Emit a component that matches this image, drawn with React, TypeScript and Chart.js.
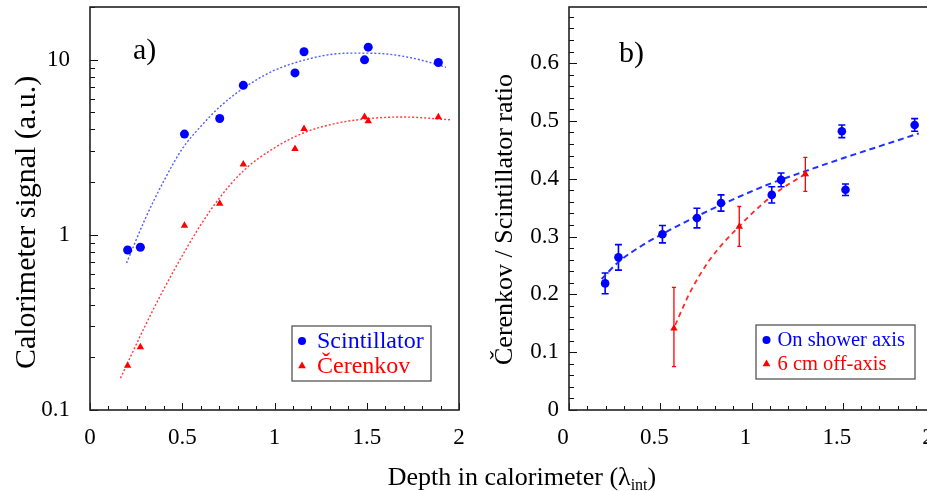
import React, { useEffect, useRef } from "react";
import { Chart, registerables } from "chart.js";

Chart.register(...registerables);

// ---------- Panel a) : calorimeter signal vs depth (log scale) ----------
const depthA = [0.204, 0.273, 0.512, 0.703, 0.831, 1.111, 1.16, 1.488, 1.508, 1.888];
const scintSignal = [0.82, 0.85, 3.76, 4.62, 7.14, 8.41, 11.1, 9.98, 11.8, 9.64];
const cerenkovSignal = [0.179, 0.229, 1.13, 1.51, 2.53, 3.1, 4.03, 4.72, 4.46, 4.71];

const scintFitDepth = [0.198, 0.3, 0.4, 0.5, 0.6, 0.7, 0.8, 0.9, 1.0, 1.1, 1.2, 1.3, 1.4, 1.5, 1.6, 1.7, 1.8, 1.93];
const scintFitSignal = [0.69, 1.24, 2.03, 3.1, 4.16, 5.34, 6.52, 7.65, 8.71, 9.53, 10.2, 10.7, 10.9, 10.9, 10.8, 10.45, 9.92, 9.05];
const cerFitDepth = [0.165, 0.3, 0.4, 0.512, 0.6, 0.703, 0.831, 1.0, 1.16, 1.328, 1.49, 1.69, 1.957];
const cerFitSignal = [0.152, 0.304, 0.49, 0.8, 1.14, 1.63, 2.32, 3.14, 3.83, 4.32, 4.59, 4.71, 4.54];

const yTickLabelsA = [0.1, 1, 10];
const xTickLabels = [0, 0.5, 1, 1.5, 2];

// ---------- Panel b) : Cerenkov / Scintillator ratio ----------
const depthB = [0.198, 0.271, 0.512, 0.701, 0.833, 1.111, 1.162, 1.495, 1.515, 1.894];
const ratioOnAxis = [0.219, 0.264, 0.304, 0.332, 0.358, 0.372, 0.398, 0.482, 0.381, 0.493];
const ratioOnAxisErr = [0.018, 0.022, 0.015, 0.017, 0.014, 0.014, 0.012, 0.011, 0.01, 0.011];

const depthOff = [0.575, 0.933, 1.295];
const ratioOffAxis = [0.141, 0.317, 0.408];
const ratioOffLow = [0.075, 0.283, 0.378];
const ratioOffHigh = [0.212, 0.352, 0.437];

const onFitDepth = [0.179, 0.271, 0.4, 0.512, 0.7, 0.9, 1.1, 1.3, 1.5, 1.7, 1.917];
const onFitRatio = [0.2267, 0.256, 0.2845, 0.3046, 0.3349, 0.3643, 0.3911, 0.4136, 0.4353, 0.456, 0.4785];
const offFitDepth = [0.582, 0.664, 0.774, 0.933, 1.048, 1.158, 1.295];
const offFitRatio = [0.147, 0.204, 0.261, 0.318, 0.353, 0.381, 0.408];

const yTickLabelsB = [0, 0.1, 0.2, 0.3, 0.4, 0.5, 0.6];

const SERIF = "'Liberation Serif', 'Times New Roman', Times, serif";
const BLUE = "#0000ff";
const RED = "#ff0000";

type Pt = { x: number; y: number };
const pts = (xs: number[], ys: number[]): Pt[] => xs.map((x, i) => ({ x, y: ys[i] }));

type TickSpec = { value: number; major: boolean };
function linearTicks(min: number, max: number, step: number, majorEvery: number): TickSpec[] {
  const out: TickSpec[] = [];
  const n = Math.floor((max - min) / step + 1e-6);
  for (let i = 0; i <= n; i++) out.push({ value: +(min + i * step).toFixed(6), major: i % majorEvery === 0 });
  return out;
}
function logTicks(min: number, max: number): TickSpec[] {
  const out: TickSpec[] = [];
  for (let d = min; d <= max * 1.0001; d *= 10) {
    for (let k = 1; k <= 9; k++) {
      const v = +(k * d).toPrecision(6);
      if (v >= min * 0.9999 && v <= max * 1.0001) out.push({ value: v, major: k === 1 });
    }
  }
  return out;
}

type ErrSpec = { xs: number[]; lows: number[]; highs: number[]; color: string; width: number; cap: number };
type LegendItem = { label: string; color: string; style: "circle" | "triangle" };
type DecorCfg = {
  xTicks: TickSpec[];
  yTicks: TickSpec[];
  label: string;
  labelDx: number;
  labelDy: number;
  yTitle: { text: string; size: number; x: number; dy: number };
  errors: ErrSpec[];
  legend: {
    rightOffset: number;
    bottomOffset: number;
    width: number;
    height: number;
    fontSize: number;
    markerDx: number;
    textDx: number;
    rows: number[];
    items: LegendItem[];
  };
};

function drawMarker(ctx: CanvasRenderingContext2D, style: string, x: number, y: number, r: number, color: string) {
  ctx.fillStyle = color;
  ctx.beginPath();
  if (style === "circle") {
    ctx.arc(x, y, r, 0, Math.PI * 2);
  } else {
    ctx.moveTo(x, y - r);
    ctx.lineTo(x + r * 0.866, y + r * 0.5);
    ctx.lineTo(x - r * 0.866, y + r * 0.5);
    ctx.closePath();
  }
  ctx.fill();
}

function makeDecor(cfg: DecorCfg) {
  return {
    id: "decor",
    beforeDatasetsDraw(chart: any) {
      const { ctx, scales } = chart;
      ctx.save();
      for (const e of cfg.errors) {
        ctx.strokeStyle = e.color;
        ctx.lineWidth = e.width;
        e.xs.forEach((xv, i) => {
          const px = scales.x.getPixelForValue(xv);
          const y1 = scales.y.getPixelForValue(e.lows[i]);
          const y2 = scales.y.getPixelForValue(e.highs[i]);
          ctx.beginPath();
          ctx.moveTo(px, y1);
          ctx.lineTo(px, y2);
          if (e.cap > 0) {
            ctx.moveTo(px - e.cap, y1);
            ctx.lineTo(px + e.cap, y1);
            ctx.moveTo(px - e.cap, y2);
            ctx.lineTo(px + e.cap, y2);
          }
          ctx.stroke();
        });
      }
      ctx.restore();
    },
    afterDatasetsDraw(chart: any) {
      const { ctx, chartArea: a, scales } = chart;
      ctx.save();
      // inner ticks
      ctx.strokeStyle = "#111";
      ctx.lineWidth = 1;
      for (const t of cfg.xTicks) {
        const px = Math.round(scales.x.getPixelForValue(t.value)) + 0.5;
        const len = t.major ? 7 : 4;
        ctx.beginPath();
        ctx.moveTo(px, a.bottom);
        ctx.lineTo(px, a.bottom - len);
        ctx.stroke();
      }
      for (const t of cfg.yTicks) {
        const py = Math.round(scales.y.getPixelForValue(t.value)) + 0.5;
        const len = t.major ? 8 : 5;
        ctx.beginPath();
        ctx.moveTo(a.left, py);
        ctx.lineTo(a.left + len, py);
        ctx.stroke();
      }
      // frame
      ctx.lineWidth = 1.6;
      ctx.strokeStyle = "#222";
      ctx.strokeRect(a.left, a.top, a.right - a.left, a.bottom - a.top);
      // panel label
      ctx.fillStyle = "#000";
      ctx.font = `30px ${SERIF}`;
      ctx.textBaseline = "alphabetic";
      ctx.textAlign = "left";
      ctx.fillText(cfg.label, a.left + cfg.labelDx, a.top + cfg.labelDy);
      // y-axis title
      const T = cfg.yTitle;
      ctx.save();
      ctx.translate(T.x, (a.top + a.bottom) / 2 + T.dy);
      ctx.rotate(-Math.PI / 2);
      ctx.font = `${T.size}px ${SERIF}`;
      ctx.textAlign = "center";
      ctx.textBaseline = "middle";
      ctx.fillStyle = "#000";
      ctx.fillText(T.text, 0, 0);
      ctx.restore();
      // legend
      const L = cfg.legend;
      const bx = a.right - L.rightOffset - L.width;
      const by = a.bottom - L.bottomOffset - L.height;
      ctx.fillStyle = "#fff";
      ctx.fillRect(bx, by, L.width, L.height);
      ctx.strokeStyle = "#555";
      ctx.lineWidth = 1.3;
      ctx.strokeRect(bx, by, L.width, L.height);
      ctx.font = `${L.fontSize}px ${SERIF}`;
      ctx.textBaseline = "middle";
      ctx.textAlign = "left";
      L.items.forEach((it, i) => {
        const yy = by + L.rows[i];
        drawMarker(ctx, it.style, bx + L.markerDx, yy, it.style === "circle" ? 4 : 4.5, it.color);
        ctx.fillStyle = it.color;
        ctx.fillText(it.label, bx + L.textDx, yy + 1);
      });
      ctx.restore();
    },
  };
}

function baseScales(opts: {
  yType: "logarithmic" | "linear";
  yMin: number;
  yMax: number;
  yLabels: number[];
  yFormat: (v: number) => string;
  yWidth: number;
  yTickPad: number;
  xLabelOffset: number;
}) {
  return {
    x: {
      type: "linear",
      min: 0,
      max: 2,
      grid: { display: false, drawTicks: false },
      border: { display: false },
      afterBuildTicks: (s: any) => {
        s.ticks = xTickLabels.map((v) => ({ value: v }));
      },
      ticks: {
        padding: 14,
        color: "#000",
        autoSkip: false,
        maxRotation: 0,
        labelOffset: opts.xLabelOffset,
        font: { family: SERIF, size: 23 },
        callback: (v: any) => String(v),
      },
      afterFit: (s: any) => {
        s.height = 81;
        s.paddingLeft = 0;
        s.paddingRight = 0;
      },
    },
    y: {
      type: opts.yType,
      min: opts.yMin,
      max: opts.yMax,
      grid: { display: false, drawTicks: false },
      border: { display: false },
      afterBuildTicks: (s: any) => {
        s.ticks = opts.yLabels.map((v) => ({ value: v }));
      },
      ticks: {
        padding: opts.yTickPad,
        color: "#000",
        autoSkip: false,
        font: { family: SERIF, size: 23 },
        callback: (v: any) => opts.yFormat(Number(v)),
      },
      afterFit: (s: any) => {
        s.width = opts.yWidth;
        s.paddingTop = 0;
        s.paddingBottom = 0;
      },
    },
  };
}

function PanelA() {
  const ref = useRef<HTMLCanvasElement | null>(null);
  useEffect(() => {
    if (!ref.current) return;
    const chart = new Chart(ref.current, {
      type: "scatter",
      data: {
        datasets: [
          {
            label: "Scintillator",
            data: pts(depthA, scintSignal),
            pointStyle: "circle",
            pointRadius: 4.5,
            backgroundColor: BLUE,
            borderColor: BLUE,
            borderWidth: 0,
          },
          {
            label: "Čerenkov",
            data: pts(depthA, cerenkovSignal),
            pointStyle: "triangle",
            pointRadius: 4.3,
            backgroundColor: RED,
            borderColor: RED,
            borderWidth: 0,
          },
          {
            label: "Scintillator fit",
            data: pts(scintFitDepth, scintFitSignal),
            showLine: true,
            pointRadius: 0,
            borderColor: "#4f5dff",
            borderWidth: 1.4,
            borderDash: [2, 2],
            cubicInterpolationMode: "monotone",
            fill: false,
          },
          {
            label: "Čerenkov fit",
            data: pts(cerFitDepth, cerFitSignal),
            showLine: true,
            pointRadius: 0,
            borderColor: "#ff3a3a",
            borderWidth: 1.4,
            borderDash: [2, 2],
            cubicInterpolationMode: "monotone",
            fill: false,
          },
        ],
      } as any,
      options: {
        responsive: false,
        animation: false,
        layout: { padding: { top: 7, right: 11, bottom: 0, left: 0 } },
        plugins: { legend: { display: false }, tooltip: { enabled: false } },
        scales: baseScales({
          yType: "logarithmic",
          yMin: 0.1,
          yMax: 20,
          yLabels: yTickLabelsA,
          yFormat: (v) => String(v),
          yWidth: 90,
          yTickPad: 20,
          xLabelOffset: 0,
        }) as any,
      },
      plugins: [
        makeDecor({
          xTicks: linearTicks(0, 2, 0.1, 5),
          yTicks: logTicks(0.1, 20),
          label: "a)",
          labelDx: 43,
          labelDy: 52,
          yTitle: { text: "Calorimeter signal (a.u.)", size: 30, x: 27.5, dy: 14 },
          errors: [],
          legend: {
            rightOffset: 28,
            bottomOffset: 29,
            width: 139,
            height: 55,
            fontSize: 24,
            markerDx: 10,
            textDx: 25,
            rows: [15, 40],
            items: [
              { label: "Scintillator", color: BLUE, style: "circle" },
              { label: "Čerenkov", color: RED, style: "triangle" },
            ],
          },
        }),
      ],
    });
    return () => chart.destroy();
  }, []);
  return (
    <canvas
      ref={ref}
      width={470}
      height={491}
      style={{ position: "absolute", left: 0, top: 0, width: 470, height: 491 }}
    />
  );
}

function PanelB() {
  const ref = useRef<HTMLCanvasElement | null>(null);
  useEffect(() => {
    if (!ref.current) return;
    const chart = new Chart(ref.current, {
      type: "scatter",
      data: {
        datasets: [
          {
            label: "On shower axis",
            data: pts(depthB, ratioOnAxis),
            pointStyle: "circle",
            pointRadius: 4.3,
            backgroundColor: BLUE,
            borderColor: BLUE,
            borderWidth: 0,
          },
          {
            label: "6 cm off-axis",
            data: pts(depthOff, ratioOffAxis),
            pointStyle: "triangle",
            pointRadius: 4.3,
            backgroundColor: RED,
            borderColor: RED,
            borderWidth: 0,
          },
          {
            label: "On-axis fit",
            data: pts(onFitDepth, onFitRatio),
            showLine: true,
            pointRadius: 0,
            borderColor: "#2030ff",
            borderWidth: 2,
            borderDash: [6, 4],
            cubicInterpolationMode: "monotone",
            fill: false,
          },
          {
            label: "Off-axis fit",
            data: pts(offFitDepth, offFitRatio),
            showLine: true,
            pointRadius: 0,
            borderColor: "#ff2a2a",
            borderWidth: 1.8,
            borderDash: [5, 4],
            cubicInterpolationMode: "monotone",
            fill: false,
          },
        ],
      } as any,
      options: {
        responsive: false,
        animation: false,
        layout: { padding: { top: 7, right: 26, bottom: 0, left: 0 } },
        plugins: { legend: { display: false }, tooltip: { enabled: false } },
        scales: baseScales({
          yType: "linear",
          yMin: 0,
          yMax: 0.697,
          yLabels: yTickLabelsB,
          yFormat: (v) => (v === 0 ? "0" : v.toFixed(1)),
          yWidth: 99,
          yTickPad: 10,
          xLabelOffset: -6,
        }) as any,
      },
      plugins: [
        makeDecor({
          xTicks: linearTicks(0, 2, 0.1, 5),
          yTicks: linearTicks(0, 0.697, 0.02, 5),
          label: "b)",
          labelDx: 50,
          labelDy: 55,
          yTitle: { text: "Čerenkov / Scintillator ratio", size: 26, x: 35.6, dy: 11 },
          errors: [
            {
              xs: depthB,
              lows: ratioOnAxis.map((v, i) => v - ratioOnAxisErr[i]),
              highs: ratioOnAxis.map((v, i) => v + ratioOnAxisErr[i]),
              color: BLUE,
              width: 1.6,
              cap: 3.5,
            },
            {
              xs: depthOff,
              lows: ratioOffLow,
              highs: ratioOffHigh,
              color: RED,
              width: 1.3,
              cap: 2,
            },
          ],
          legend: {
            rightOffset: 19,
            bottomOffset: 31,
            width: 159,
            height: 54,
            fontSize: 20.5,
            markerDx: 10.5,
            textDx: 21.5,
            rows: [15, 39],
            items: [
              { label: "On shower axis", color: BLUE, style: "circle" },
              { label: "6 cm off-axis", color: RED, style: "triangle" },
            ],
          },
        }),
      ],
    });
    return () => chart.destroy();
  }, []);
  return (
    <canvas
      ref={ref}
      width={490}
      height={491}
      style={{ position: "absolute", left: 470, top: 0, width: 490, height: 491 }}
    />
  );
}

export default function App() {
  return (
    <div
      style={{
        position: "fixed",
        left: 0,
        top: 0,
        width: 927,
        height: 491,
        overflow: "hidden",
        background: "#fff",
      }}
    >
      <PanelA />
      <PanelB />
      <div
        style={{
          position: "absolute",
          left: 322,
          top: 464,
          width: 400,
          textAlign: "center",
          fontFamily: SERIF,
          fontSize: 26,
          lineHeight: "26px",
          whiteSpace: "nowrap",
          color: "#000",
        }}
      >
        Depth in calorimeter (λ
        <span style={{ fontSize: 16, position: "relative", top: 5, lineHeight: 0 }}>int</span>)
      </div>
    </div>
  );
}
